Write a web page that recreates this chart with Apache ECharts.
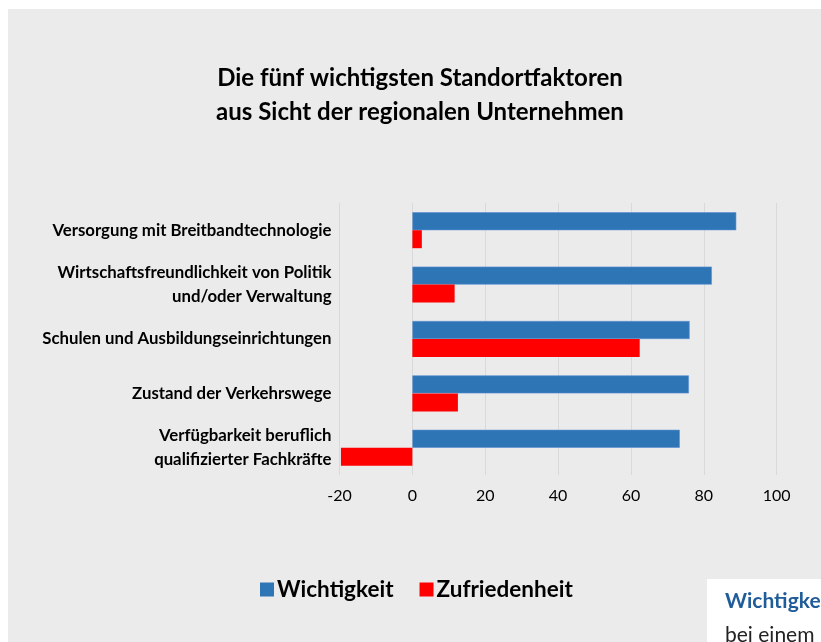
<!DOCTYPE html>
<html>
<head>
<meta charset="utf-8">
<script src="https://cdn.jsdelivr.net/npm/echarts@6/dist/echarts.min.js"></script>
<style>
  html, body { margin: 0; padding: 0; background: #fff; }
  #main { width: 821px; height: 642px; }
</style>
</head>
<body>
<div id="main"></div>
<script>
// Daten
var factors = [
    'Versorgung mit Breitbandtechnologie',
    'Wirtschaftsfreundlichkeit von Politik\nund/oder Verwaltung',
    'Schulen und Ausbildungseinrichtungen',
    'Zustand der Verkehrswege',
    'Verfügbarkeit beruflich\nqualifizierter Fachkräfte'
];
var wichtigkeit = [88.9, 82.2, 76.1, 75.9, 73.4];
var zufriedenheit = [2.6, 11.6, 62.4, 12.5, -19.6];
var xTicks = [-20, 0, 20, 40, 60, 80, 100];

var font = 'Lato';
var chart = echarts.init(document.getElementById('main'));

var option = {
    animation: false,
    textStyle: { fontFamily: font },
    graphic: [
        // grauer Hintergrund
        { type: 'rect', z: -10, shape: { x: 8, y: 9, width: 813, height: 633 }, style: { fill: '#ebebeb' } },
        // weisses Feld unten rechts (Rest der Seite)
        { type: 'rect', z: 10, shape: { x: 707, y: 579, width: 114, height: 63 }, style: { fill: '#ffffff' } },
        { type: 'text', z: 11, left: 725, top: 591, style: { text: 'Wichtigkeit', fill: '#1f5c99', font: 'bold 21px ' + font } },
        { type: 'text', z: 11, left: 725, top: 625, style: { text: 'bei einem', fill: '#222', font: '21px ' + font } }
    ],
    title: {
        text: 'Die fünf wichtigsten Standortfaktoren\naus Sicht der regionalen Unternehmen',
        left: 415,
        top: 56,
        textAlign: 'center',
        textStyle: { fontFamily: font, fontSize: 24, fontWeight: 'bold', color: '#000', lineHeight: 34 }
    },
    legend: {
        left: 255,
        top: 573,
        itemWidth: 14,
        itemHeight: 14,
        itemGap: 26,
        icon: 'rect',
        itemStyle: { borderWidth: 0 },
        textStyle: { fontFamily: font, fontSize: 22.5, fontWeight: 'bold', color: '#000', padding: [0, 0, 0, -2] },
        data: ['Wichtigkeit', 'Zufriedenheit']
    },
    grid: { left: 339.5, right: 44.3, top: 203, bottom: 167, containLabel: false },
    xAxis: {
        type: 'value',
        min: xTicks[0],
        max: xTicks[xTicks.length - 1],
        interval: 20,
        axisLine: { show: false },
        axisTick: { show: false },
        axisLabel: { fontFamily: font, fontSize: 16, color: '#000', margin: 13 },
        splitLine: { lineStyle: { color: '#d9d9d9', width: 1 } }
    },
    yAxis: {
        type: 'category',
        inverse: true,
        data: factors,
        axisLine: { show: false },
        axisTick: { show: false },
        axisLabel: {
            fontFamily: font, fontSize: 16.8, fontWeight: 'bold', color: '#000',
            margin: 8, lineHeight: 24, align: 'right'
        }
    },
    series: [
        {
            name: 'Wichtigkeit',
            type: 'bar',
            data: wichtigkeit,
            barWidth: 18,
            barGap: '0%',
            itemStyle: { color: '#2e75b6', borderColor: '#5b8fd0', borderWidth: 0.6 }
        },
        {
            name: 'Zufriedenheit',
            type: 'bar',
            data: zufriedenheit,
            barWidth: 18,
            barGap: '0%',
            itemStyle: { color: '#ff0000' }
        }
    ]
};
chart.setOption(option);
</script>
</body>
</html>
